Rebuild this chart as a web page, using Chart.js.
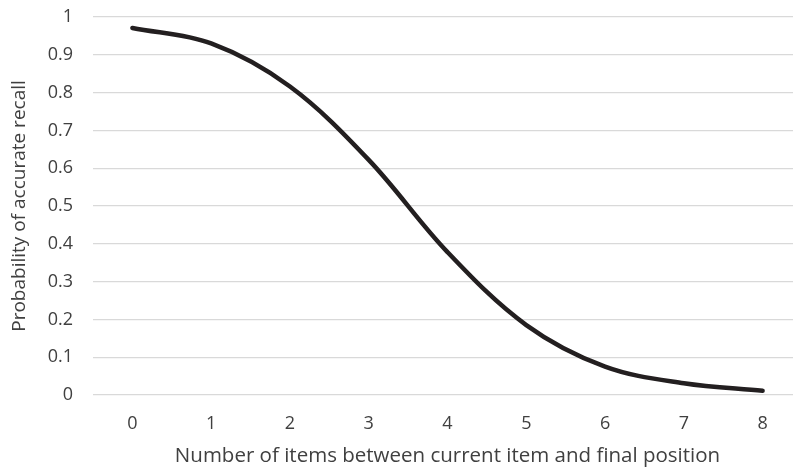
<!DOCTYPE html>
<html>
<head>
<meta charset="utf-8">
<script src="https://cdn.jsdelivr.net/npm/chart.js@4.4.0/dist/chart.umd.min.js"></script>
<style>
  html, body { margin: 0; padding: 0; background: #ffffff; overflow: hidden; }
  #wrap { position: relative; width: 802px; height: 468px; }
</style>
</head>
<body>
<div id="wrap"><canvas id="c"></canvas></div>
<script>
const categories = ['0', '1', '2', '3', '4', '5', '6', '7', '8'];
const recallValues = [0.971, 0.930, 0.816, 0.622, 0.378, 0.185, 0.075, 0.031, 0.011];
const yTickLabels = ['0', '0.1', '0.2', '0.3', '0.4', '0.5', '0.6', '0.7', '0.8', '0.9', '1'];
const xTitle = 'Number of items between current item and final position';
const yTitle = 'Probability of accurate recall';

const FONT = '"Open Sans", "DejaVu Sans", sans-serif';
const TEXT = '#404040';

new Chart(document.getElementById('c'), {
  type: 'line',
  data: {
    labels: categories,
    datasets: [{
      data: recallValues,
      borderColor: '#231f20',
      borderWidth: 4.5,
      borderCapStyle: 'round',
      borderJoinStyle: 'round',
      pointRadius: 0,
      pointHoverRadius: 0,
      tension: 0.35,
      fill: false
    }]
  },
  options: {
    responsive: true,
    maintainAspectRatio: false,
    animation: false,
    events: [],
    layout: { padding: { top: 17, left: 0, right: 0, bottom: 0 } },
    plugins: { legend: { display: false }, tooltip: { enabled: false } },
    scales: {
      x: {
        type: 'category',
        offset: true,
        grid: { display: false, drawTicks: false },
        border: { display: false },
        ticks: { color: TEXT, font: { family: FONT, size: 18 }, padding: 18, maxRotation: 0, autoSkip: false },
        title: {
          display: true,
          text: xTitle,
          color: TEXT,
          font: { family: FONT, size: 20.5 },
          padding: { top: 0, bottom: 0 }
        },
        afterFit(scale) { scale.height = 73; scale.paddingLeft = 0; scale.paddingRight = 0; }
      },
      y: {
        min: 0,
        max: 1,
        grid: { color: '#d9d9d9', lineWidth: 1.3, drawTicks: false },
        border: { display: false },
        ticks: {
          stepSize: 0.1,
          color: TEXT,
          font: { family: FONT, size: 18 },
          padding: 20,
          callback: (v, i) => yTickLabels[i]
        },
        title: {
          display: true,
          text: yTitle,
          color: TEXT,
          font: { family: FONT, size: 19 },
          padding: { top: 8, bottom: 0 }
        },
        afterFit(scale) { scale.width = 93; scale.paddingTop = 0; scale.paddingBottom = 0; }
      }
    }
  }
});
</script>
</body>
</html>
